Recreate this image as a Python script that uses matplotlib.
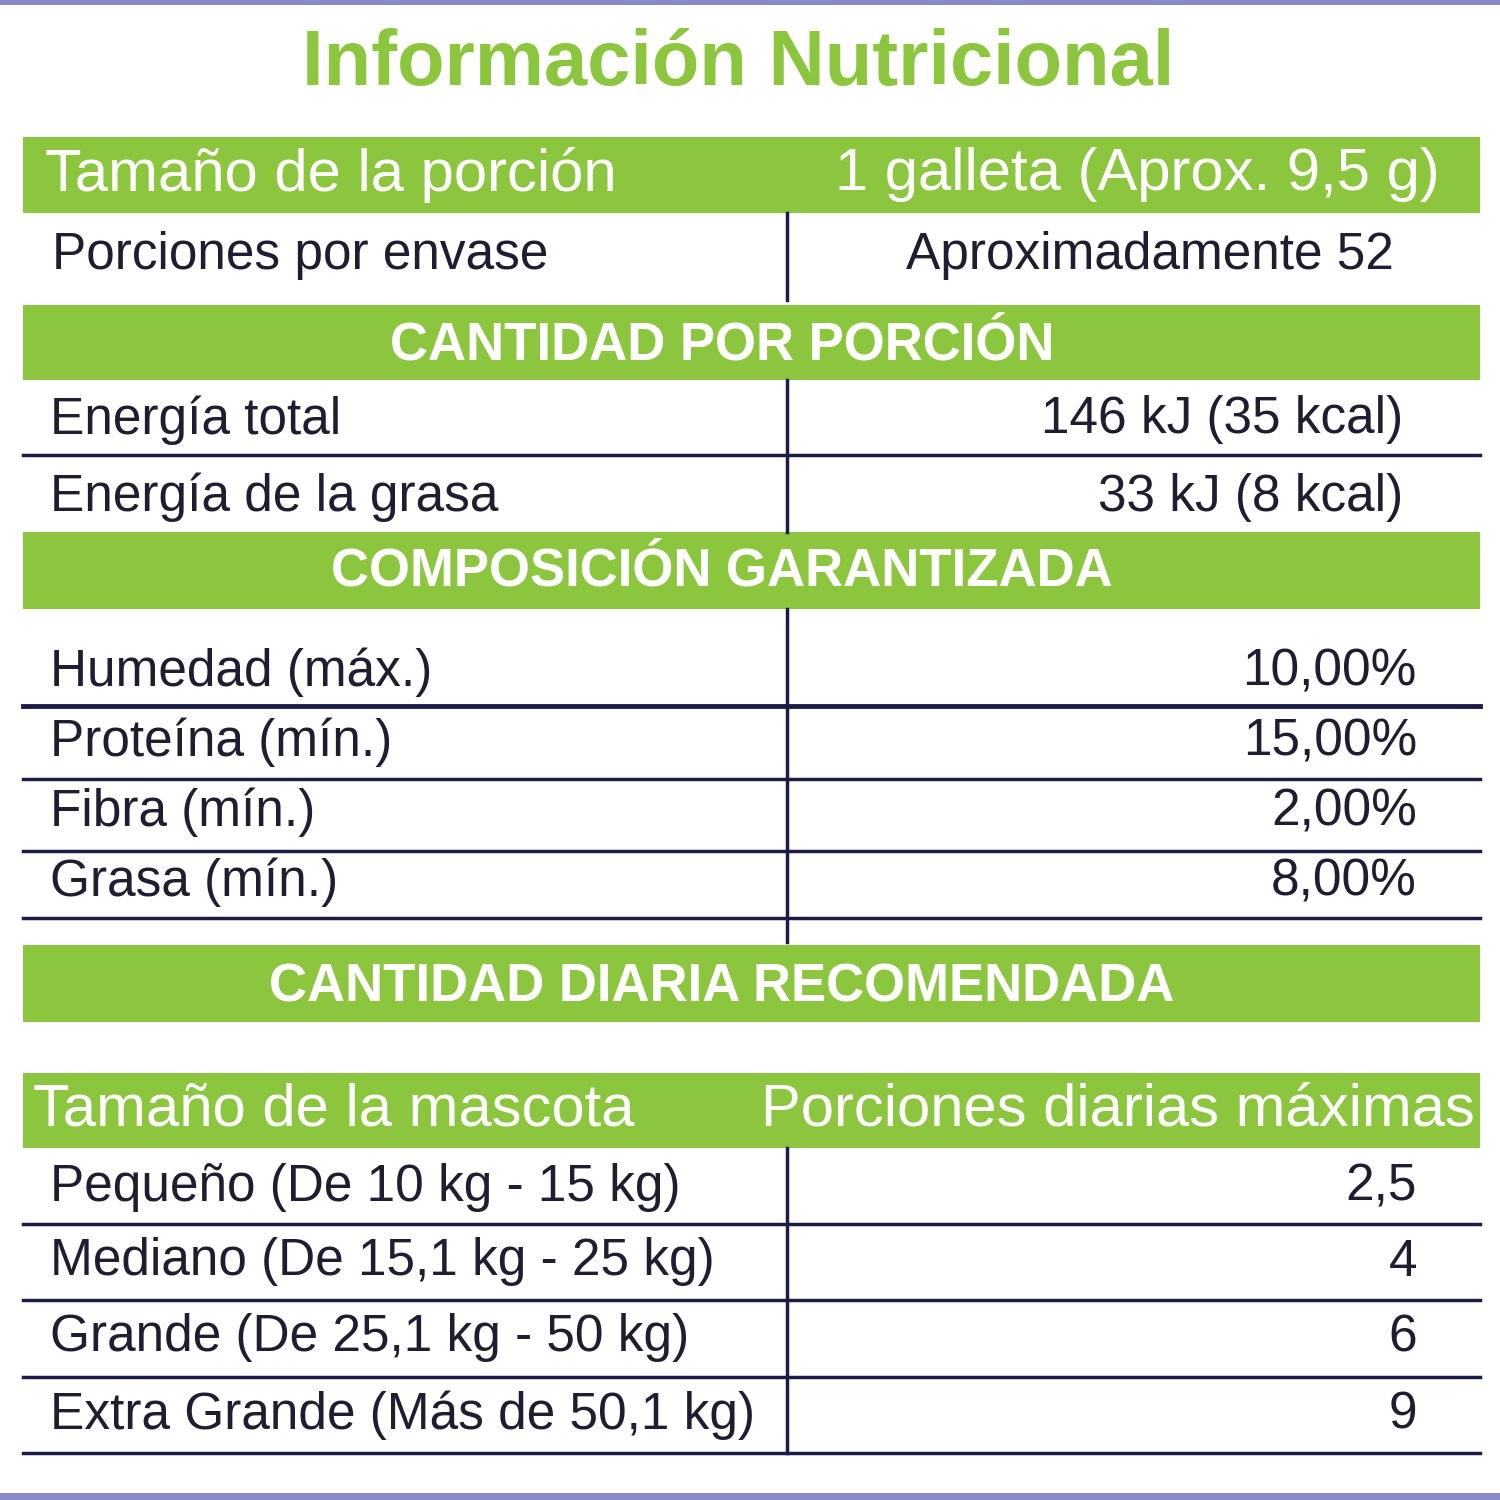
import matplotlib
matplotlib.use("Agg")
import matplotlib.pyplot as plt
from matplotlib.patches import Rectangle

title = "Información Nutricional"
serving_label = "Tamaño de la porción"
serving_value = "1 galleta (Aprox. 9,5 g)"
portions_label = "Porciones por envase"
portions_value = "Aproximadamente 52"
section_headers = ["CANTIDAD POR PORCIÓN", "COMPOSICIÓN GARANTIZADA", "CANTIDAD DIARIA RECOMENDADA"]
energy_labels = ["Energía total", "Energía de la grasa"]
energy_values = ["146 kJ (35 kcal)", "33 kJ (8 kcal)"]
comp_labels = ["Humedad (máx.)", "Proteína (mín.)", "Fibra (mín.)", "Grasa (mín.)"]
comp_values = ["10,00%", "15,00%", "2,00%", "8,00%"]
pet_header = ["Tamaño de la mascota", "Porciones diarias máximas"]
pet_labels = ["Pequeño (De 10 kg - 15 kg)", "Mediano (De 15,1 kg - 25 kg)",
              "Grande (De 25,1 kg - 50 kg)", "Extra Grande (Más de 50,1 kg)"]
pet_values = ["2,5", "4", "6", "9"]

GREEN = "#8cc63f"
NAVY = "#1c1c48"
TXT = "#1e1e30"
FAM = ["Liberation Sans", "DejaVu Sans"]

fig = plt.figure(figsize=(15, 15), dpi=100)
ax = fig.add_axes([0, 0, 1, 1])
ax.set_xlim(0, 1500); ax.set_ylim(1500, 0); ax.axis("off")

X0, X1, XM = 23, 1480, 787

def band(y0, y1):
    ax.add_patch(Rectangle((X0, y0), X1 - X0, y1 - y0, color=GREEN, lw=0))

def hline(y, lw=2.5):
    ax.plot([X0, X1], [y, y], color=NAVY, lw=lw)

def vline(y0, y1):
    ax.plot([XM, XM], [y0, y1], color=NAVY, lw=2.5)

def t(x, y, s, ha="left", size=37, color=TXT, weight="normal"):
    ax.text(x, y, s, ha=ha, va="center", fontsize=size, color=color, weight=weight, family=FAM)

ax.add_patch(Rectangle((0, 0), 1500, 5, color="#8a8ac8", lw=0))
ax.add_patch(Rectangle((0, 1493), 1500, 7, color="#8a8ac8", lw=0))

t(738, 65, title, ha="center", size=56, color=GREEN, weight="bold")

band(137, 213)
t(45, 175, serving_label, size=43, color="white")
t(1440, 175, serving_value, ha="right", size=43, color="white")
t(52, 256, portions_label)
t(1150, 256, portions_value, ha="center")
vline(213, 300)

band(305, 380)
t(722, 345, section_headers[0], ha="center", size=38, color="white", weight="bold")
ys = [420, 497]
for lab, val, y in zip(energy_labels, energy_values, ys):
    t(50, y, lab); t(1403, y, val, ha="right")
hline(455)
vline(380, 532)

band(532, 609)
t(722, 572, section_headers[1], ha="center", size=38, color="white", weight="bold")
cy = [672, 742, 812, 882]
cl = [706, 779, 851, 918]
for lab, val, y in zip(comp_labels, comp_values, cy):
    t(50, y, lab); t(1417, y, val, ha="right")
for i, y in enumerate(cl):
    hline(y, 3.5 if i == 0 else 2.5)
vline(609, 942)

band(945, 1022)
t(722, 987, section_headers[2], ha="center", size=38, color="white", weight="bold")

band(1073, 1148)
t(33, 1110, pet_header[0], size=43, color="white")
t(1475, 1110, pet_header[1], ha="right", size=43, color="white")
py = [1187, 1262, 1338, 1415]
pl = [1224, 1300, 1377, 1453]
for lab, val, y in zip(pet_labels, pet_values, py):
    t(50, y, lab); t(1417, y, val, ha="right")
for y in pl:
    hline(y)
vline(1148, 1453)

fig.savefig("out.png", dpi=100, facecolor="white")
